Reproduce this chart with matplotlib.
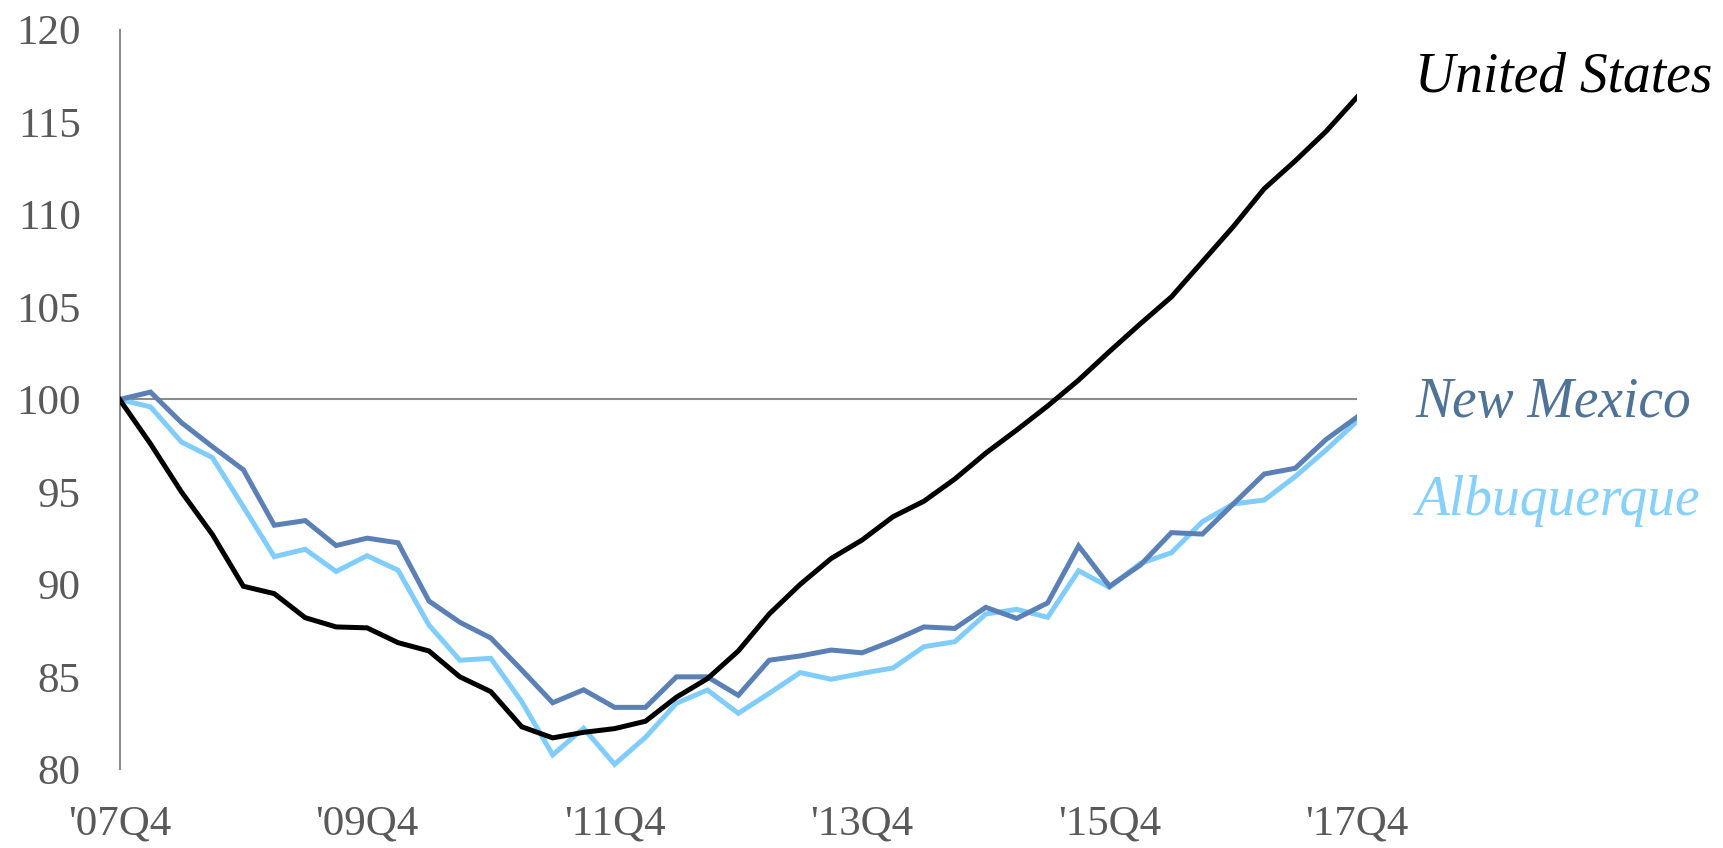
import matplotlib
matplotlib.use("Agg")
import matplotlib.pyplot as plt
import numpy as np

# Employment index, 2007Q4 = 100, quarterly 2007Q4 - 2017Q4
quarters = [f"'{(7 + (i + 3) // 4) % 100:02d}Q{(i + 3) % 4 + 1}" for i in range(41)]

united_states = [
    100.0, 97.6, 95.0, 92.7, 89.9, 89.5, 88.2, 87.7, 87.65, 86.85,
    86.4, 85.0, 84.2, 82.3, 81.7, 82.0, 82.2, 82.6, 83.9, 84.9,
    86.4, 88.4, 90.0, 91.4, 92.4, 93.66, 94.5, 95.7, 97.1, 98.35,
    99.65, 101.05, 102.6, 104.1, 105.55, 107.45, 109.35, 111.4, 112.9, 114.5,
    116.35,
]
new_mexico = [
    100.0, 100.4, 98.75, 97.45, 96.2, 93.2, 93.45, 92.1, 92.5, 92.25,
    89.1, 87.95, 87.1, 85.37, 83.6, 84.3, 83.35, 83.35, 85.0, 85.0,
    84.0, 85.9, 86.13, 86.45, 86.3, 86.95, 87.7, 87.62, 88.76, 88.16,
    89.0, 92.08, 89.9, 91.05, 92.8, 92.72, 94.35, 95.97, 96.28, 97.84,
    99.05,
]
albuquerque = [
    100.0, 99.6, 97.7, 96.86, 94.2, 91.5, 91.9, 90.7, 91.55, 90.77,
    87.8, 85.9, 86.0, 83.66, 80.78, 82.22, 80.27, 81.73, 83.57, 84.29,
    83.03, 84.11, 85.23, 84.87, 85.19, 85.48, 86.63, 86.9, 88.4, 88.65,
    88.22, 90.74, 89.84, 91.14, 91.71, 93.39, 94.35, 94.56, 95.83, 97.27,
    98.82,
]

tick_idx = [0, 8, 16, 24, 32, 40]
y_ticks = [80, 85, 90, 95, 100, 105, 110, 115, 120]

series = [
    ("United States", united_states, "#000000", "#000000"),
    ("New Mexico", new_mexico, "#5b80b5", "#4f7396"),
    ("Albuquerque", albuquerque, "#80cdfc", "#86d1fb"),
]
label_y = {"United States": 117.4, "New Mexico": 99.8, "Albuquerque": 94.5}

serif = ["Liberation Serif", "DejaVu Serif"]
tick_color = "#595959"
axis_color = "#8c8c8c"

fig = plt.figure(figsize=(17.23, 8.48), dpi=100)
ax = fig.add_axes([0.0694, 0.0928, 0.7182, 0.8722])

x = np.arange(len(quarters))
ax.axhline(100, color=axis_color, lw=1.5, zorder=1)
for name, vals, lc, tc in series[::-1]:
    ax.plot(x, vals, color=lc, lw=3.6, solid_joinstyle="miter", zorder=3)

ax.set_xlim(0, len(quarters) - 1)
ax.set_ylim(80, 120)

for side in ["top", "right", "bottom"]:
    ax.spines[side].set_visible(False)
ax.spines["left"].set_color(axis_color)
ax.spines["left"].set_linewidth(1.5)

ax.set_yticks(y_ticks)
ax.set_yticklabels([str(v) for v in y_ticks], family=serif, fontsize=31, color=tick_color)
ax.set_xticks(tick_idx)
ax.set_xticklabels([quarters[i] for i in tick_idx], family=serif, fontsize=31, color=tick_color)
ax.tick_params(axis="y", length=0, pad=28)
ax.tick_params(axis="x", length=0, pad=26)

for name, vals, lc, tc in series:
    ax.text(1.047, label_y[name], name, transform=ax.get_yaxis_transform(),
            family=serif, style="italic", fontsize=40, color=tc,
            ha="left", va="center", clip_on=False)

fig.savefig("out.png", dpi=100, facecolor="white")
